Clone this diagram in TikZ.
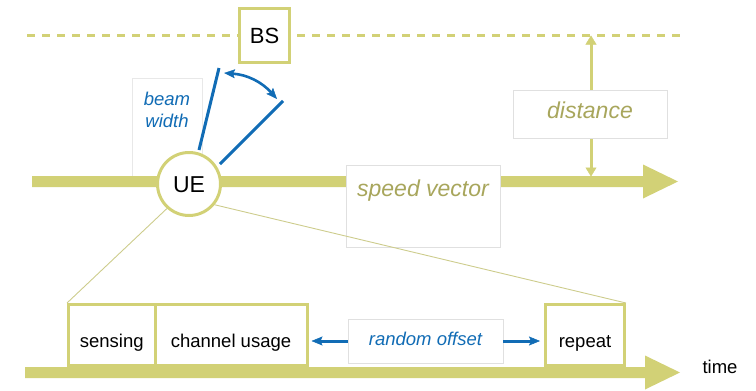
\documentclass[tikz,border=0pt]{standalone}
\usepackage{fontspec}
\setmainfont{Liberation Sans}
\usetikzlibrary{arrows.meta,calc,shapes.geometric}

\definecolor{barc}{RGB}{210,209,118}
\definecolor{olivetext}{RGB}{168,166,92}
\definecolor{beamblue}{RGB}{17,108,181}
\definecolor{softgray}{RGB}{224,224,224}
\definecolor{faintgray}{RGB}{232,232,232}
\definecolor{zoomc}{RGB}{205,204,140}

% thick bar ending in a wide triangular head: #1 = start, #2 = tip, #3 = head half height
\newcommand{\fatbar}[3]{%
  \fill[barc] ($(#1)+(0,-5.5)$) -- ($(#2)+(-35,-5.5)$) -- ($(#2)+(-35,-#3)$) -- (#2)
    -- ($(#2)+(-35,#3)$) -- ($(#2)+(-35,5.5)$) -- ($(#1)+(0,5.5)$) -- cycle;}

\tikzset{
  olivebox/.style={draw=barc, line width=3pt, fill=white, inner sep=0pt, font=\fontsize{18.5}{20}\selectfont},
  softbox/.style={draw=softgray, line width=0.8pt, fill=white, inner sep=0pt},
  bigtext/.style={font=\fontsize{23}{26}\selectfont\itshape, text=olivetext, inner sep=0pt, anchor=base},
  beamtext/.style={font=\fontsize{18.5}{20}\selectfont\itshape, text=beamblue, inner sep=0pt, anchor=base},
  beamline/.style={draw=beamblue, line width=3pt},
  bluetip/.tip={Stealth[length=11pt,width=9pt,inset=2pt,line width=0.5pt]},
  olivetip/.tip={Triangle[length=9pt,width=11pt,line width=0.5pt]},
  bluearrow/.style={draw=beamblue, line width=3pt, -bluetip},
  zoomline/.style={draw=zoomc, line width=0.9pt},
}

\begin{document}
\begin{tikzpicture}[x=1pt, y=-1pt]
\useasboundingbox (0,0) rectangle (756,391);

% base station track
\coordinate (dl-a) at (27,35);
\coordinate (dl-b) at (680,35);
\draw[barc, line width=3pt, dash pattern=on 8pt off 7pt] (dl-a) -- (dl-b);
\node[olivebox, minimum width=50pt, minimum height=54pt, text height=15pt, text depth=0pt,
      font=\fontsize{22}{24}\selectfont] (bs) at (264.5,35.5) {BS};

% beam width label box
\node[draw=faintgray, line width=0.7pt, fill=white, inner sep=0pt,
      minimum width=70pt, minimum height=104pt] (bw-box) at (167,130) {};
\node[beamtext] (bw-top) at (167,105) {beam};
\node[beamtext] (bw-bot) at (167,127) {width};

% speed vector
\coordinate (sv-a) at (32,181.5);
\coordinate (sv-tip) at (678,181.5);
\fatbar{sv-a}{sv-tip}{17}
\node[softbox, minimum width=154pt, minimum height=82pt] (sv-box) at (423,206) {};
\node[bigtext] (sv-label) at (423,196) {speed vector};

% distance between the tracks
\coordinate (dist-top) at (591,35.5);
\coordinate (dist-bot) at (591,176.5);
\draw[barc, line width=3pt, olivetip-olivetip] (dist-bot) -- (dist-top);
\node[softbox, minimum width=154pt, minimum height=48pt, text height=12pt, text depth=4pt,
      font=\fontsize{23}{26}\selectfont\itshape, text=olivetext] (dist) at (590,114) {distance};

% user equipment
\node[circle, draw=barc, line width=3pt, fill=white, minimum size=63pt, inner sep=0pt,
      text height=16pt, text depth=0pt, font=\fontsize{23}{26}\selectfont] (ue) at (189,184) {UE};

% beam and its opening angle
\coordinate (b1a) at (199,150);
\coordinate (b1b) at (219,68);
\coordinate (b2a) at (220,164);
\coordinate (b2b) at (283,101);
\draw[beamline] (b1a) -- (b1b);
\draw[beamline] (b2a) -- (b2b);
\coordinate (arc-a) at (224,73);
\coordinate (arc-b) at (277,99);
\draw[draw=beamblue, line width=2.6pt, bluetip-bluetip]
  (arc-a) to[bend left=22] (arc-b);

% time line
\coordinate (tl-a) at (25,372.5);
\coordinate (tl-tip) at (680,372.5);
\fatbar{tl-a}{tl-tip}{17}
\node[font=\fontsize{18.5}{20}\selectfont, inner sep=0pt, anchor=base] (time) at (720,373) {time};

% timeline phases
\node[olivebox, minimum width=86.5pt, minimum height=61pt, text height=24pt, text depth=0pt]
  (sens) at (111.75,335) {sensing};
\node[olivebox, minimum width=152pt, minimum height=61pt, text height=24pt, text depth=0pt]
  (chan) at (231,335) {channel usage};
\node[olivebox, minimum width=79pt, minimum height=61pt, text height=24pt, text depth=0pt]
  (rep) at (585,335) {repeat};
\node[softbox, minimum width=155pt, minimum height=44pt, text height=12pt, text depth=4pt,
      font=\fontsize{18.5}{20}\selectfont\itshape, text=beamblue] (ro) at (425.5,341) {random offset};
\draw[bluearrow, shorten >=3pt] (ro.west) -- (chan.east |- ro.west);
\draw[bluearrow, shorten >=4pt] (ro.east) -- (rep.west |- ro.east);

% zoom from the UE to its time line
\draw[zoomline] (ue.228) -- (sens.north west);
\draw[zoomline] (ue.-39) -- (rep.north east);
\end{tikzpicture}
\end{document}
